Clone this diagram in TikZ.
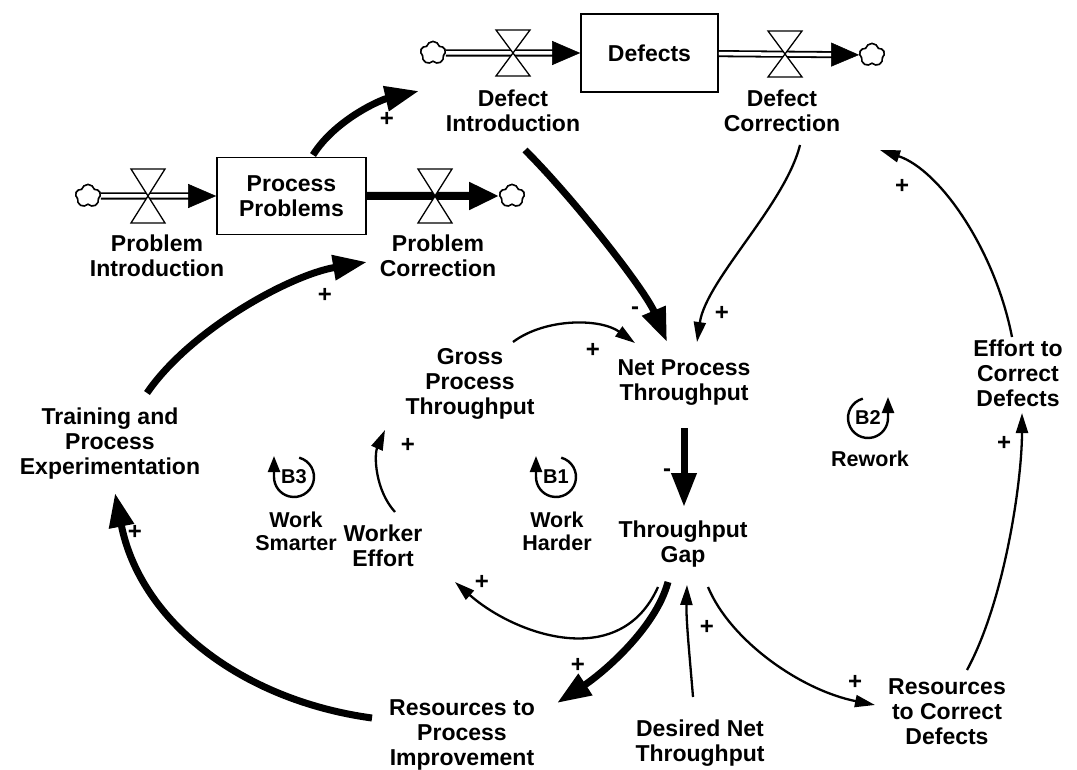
\documentclass[tikz,border=0pt]{standalone}
\usepackage{fontspec}
\setmainfont{Liberation Sans}
\usetikzlibrary{arrows.meta,calc,shapes.symbols}

\tikzset{
  var/.style={font=\bfseries\fontsize{23}{25}\selectfont, align=center, inner sep=0pt},
  stock/.style={var, draw, line width=1.6pt},
  lbl/.style={font=\bfseries\fontsize{21.5}{23}\selectfont, align=center, inner sep=0pt},
  loopid/.style={font=\bfseries\fontsize{20}{20}\selectfont, inner sep=0pt},
  sgn/.style={font=\bfseries\fontsize{24}{24}\selectfont, inner sep=0pt},
  link/.style={line width=2.3pt, -{Triangle[length=20pt,width=12pt]}},
  strong/.style={line width=7pt, -{Triangle[length=34pt,width=24pt]}},
  pipe/.style={line width=1.8pt, double distance=3.5pt, shorten >=26pt},
  pipetip/.style={white, line width=0.5pt, -{Triangle[color=black,length=28pt,width=24pt]}},
  solidpipe/.style={line width=8pt, -{Triangle[length=30pt,width=26pt]}},
  source/.style={cloud, cloud puffs=5, cloud puff arc=150, draw, fill=white, line width=1.5pt,
                 minimum width=25pt, minimum height=23pt, inner sep=0pt},
  loopmark/.style={line width=2.4pt, -{Triangle[length=16pt,width=12pt]}},
  valve/.pic={\draw[line width=1.3pt, fill=white]
      (-17,-23) -- (17,-23) -- (-17,23) -- (17,23) -- cycle;},
  tallvalve/.pic={\draw[line width=1.3pt, fill=white]
      (-17,-27) -- (17,-27) -- (-17,27) -- (17,27) -- cycle;},
}

\begin{document}
\begin{tikzpicture}[x=1pt,y=-1pt]
\useasboundingbox (0,0) rectangle (1077,770);

% ---------- stocks and flows ----------
\node[stock, minimum width=137pt, minimum height=78pt] (defects) at (649.5,53) {Defects};
\node[stock, minimum width=149pt, minimum height=77pt] (problems) at (291.5,196) {Process\\Problems};

\node[source] (cDI) at (433,53) {};
\node[source] (cDC) at (872,55) {};
\node[source] (cPI) at (88,196) {};
\node[source] (cPC) at (512,196) {};

% defect inflow and outflow
\draw[pipe] (cDI) -- (defects);
\draw[pipetip] (cDI) -- (defects);
\draw[pipe] (defects) -- (cDC);
\draw[pipetip] (defects) -- (cDC);
% problem inflow
\draw[pipe] (cPI) -- (problems);
\draw[pipetip] (cPI) -- (problems);
% problem outflow
\draw[solidpipe] (problems) -- (cPC);

\pic at (513,53) {valve};
\pic at (785,54) {valve};
\pic at (148,196) {tallvalve};
\pic at (435,196) {tallvalve};

\node[source] at (cDI) {};
\node[source] at (cDC) {};
\node[source] at (cPI) {};
\node[source] at (cPC) {};

% ---------- variables ----------
\node[var] (dIntro) at (513,111) {Defect\\Introduction};
\node[var] (dCorr) at (782,111) {Defect\\Correction};
\node[var] (pIntro) at (157,256) {Problem\\Introduction};
\node[var] (pCorr) at (438,256) {Problem\\Correction};
\node[var] (net) at (684,383) {Net Process\\Throughput};
\node[var] (gross) at (470,384) {Gross\\Process\\Throughput};
\node[var] (worker) at (383,546) {Worker\\Effort};
\node[var] (gap) at (683,544) {Throughput\\Gap};
\node[var] (training) at (110,444) {Training and\\Process\\Experimentation};
\node[var] (rpi) at (462,735) {Resources to\\Process\\Improvement};
\node[var] (desired) at (700,743) {Desired Net\\Throughput};
\node[var] (rcd) at (947,712) {Resources\\to Correct\\Defects};
\node[var] (ecd) at (1018,373) {Effort to\\Correct\\Defects};

% ---------- causal links ----------
\draw[strong] ($(problems)+(21.5,-41)$) .. controls (335,120) and (380,100) .. ($(dIntro)+(-94,-20)$);
\draw[strong] ($(dIntro)+(12,39)$) .. controls (575,200) and (645,290) .. ($(net)+(-17,-41)$);
\draw[link] ($(dCorr)+(18,34)$) .. controls (785,205) and (706,280) .. ($(net)+(13,-41)$);
\draw[link] ($(gross)+(43,-42)$) .. controls (545,318) and (600,318) .. ($(net)+(-49,-40)$);
\draw[strong] ($(net)+(0,45)$) -- ($(gap)+(1,-37)$);
\draw[link] ($(worker)+(12,-34)$) .. controls (375,490) and (374,455) .. ($(gross)+(-85,46)$);
\draw[link] ($(gap)+(-25,43)$) .. controls (620,672) and (515,635) .. ($(worker)+(72,36)$);
\draw[strong] ($(gap)+(-15,38)$) .. controls (655,630) and (600,675) .. ($(rpi)+(95,-32)$);
\draw[link] ($(desired)+(-7,-46)$) .. controls (690,660) and (686,620) .. ($(gap)+(4,41)$);
\draw[link] ($(gap)+(25,43)$) .. controls (730,640) and (800,690) .. ($(rcd)+(-72,-7)$);
\draw[link] ($(rcd)+(20,-42)$) .. controls (1005,600) and (1022,480) .. ($(ecd)+(4,40)$);
\draw[link] ($(ecd)+(-6,-36)$) .. controls (995,250) and (940,170) .. ($(dCorr)+(98,39)$);
\draw[strong] ($(rpi)+(-90,-17)$) .. controls (240,700) and (140,620) .. ($(training)+(5,49)$);
\draw[strong] ($(training)+(37,-51)$) .. controls (190,330) and (290,275) .. ($(pCorr)+(-71,6)$);

% ---------- polarities ----------
\node[sgn] (s1) at (387,119) {+};
\node[sgn] (s2) at (635,311) {-};
\node[sgn] (s3) at (722,313) {+};
\node[sgn] (s4) at (593,350) {+};
\node[sgn] (s5) at (667,473) {-};
\node[sgn] (s6) at (408,445) {+};
\node[sgn] (s7) at (482,582) {+};
\node[sgn] (s8) at (578,665) {+};
\node[sgn] (s9) at (707,627) {+};
\node[sgn] (s10) at (855,682) {+};
\node[sgn] (s11) at (1004,443) {+};
\node[sgn] (s12) at (902,186) {+};
\node[sgn] (s13) at (135,532) {+};
\node[sgn] (s14) at (325,295) {+};

% ---------- loop identifiers ----------
% clockwise circles (y axis points down), ending in an upward arrow
\node[loopid] (b3) at (294,477) {B3};
\draw[loopmark] (b3) ++(-75:20) arc[start angle=-75, end angle=180, radius=20] -- ++(0,-21);
\node[lbl] (b3l) at (296,531) {Work\\Smarter};

\node[loopid] (b1) at (556,477) {B1};
\draw[loopmark] (b1) ++(-75:20) arc[start angle=-75, end angle=180, radius=20] -- ++(0,-21);
\node[lbl] (b1l) at (557,531) {Work\\Harder};

% counter-clockwise circle ending in an upward arrow on its right side
\node[loopid] (b2) at (868,418) {B2};
\draw[loopmark] (b2) ++(-105:20) arc[start angle=-105, end angle=-360, radius=20] -- ++(0,-21);
\node[lbl] (b2l) at (870,459) {Rework};
\end{tikzpicture}
\end{document}
